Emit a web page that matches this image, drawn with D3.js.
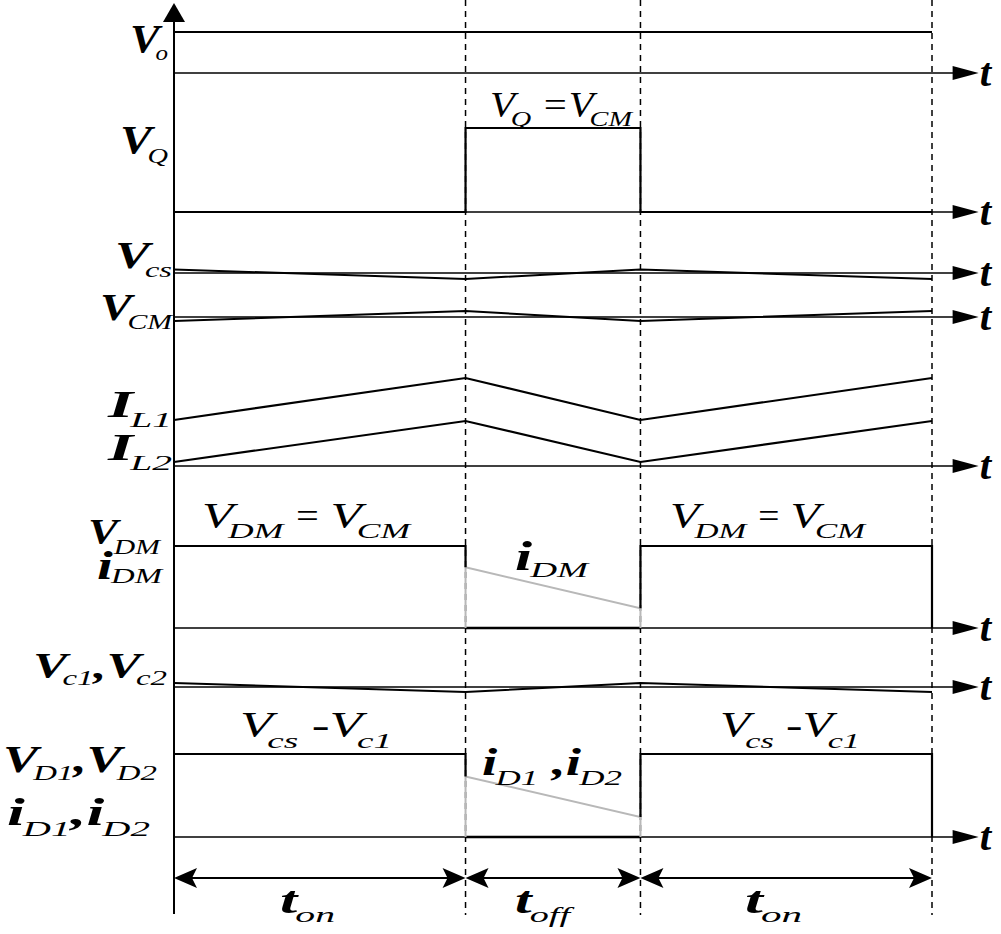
<!DOCTYPE html>
<html><head><meta charset="utf-8">
<script src="https://cdn.jsdelivr.net/npm/d3@7"></script>
<style>
html,body{margin:0;padding:0;background:#fff;}
text{font-family:"Liberation Serif","Times New Roman",serif;font-style:italic;fill:#000;}
</style></head>
<body><svg id="c" width="1001" height="934"></svg>
<script>
// ---------- data ----------
const tBreaks = [0, 1, 1.6, 2.6];          // t_on, t_off, t_on boundaries (t_on = 1)
const tAxisEnd = 2.76;
const voVals  = [1, 1, 1, 1];
const vqT     = [0, 1, 1, 1.6, 1.6, 2.6];
const vqVals  = [0, 0, 1, 1, 0, 0];
const vcsVals = [0.35, -0.6, 0.35, -0.6];
const vcmVals = [-0.4, 0.6, -0.4, 0.6];
const il1Vals = [4.6, 8.8, 4.6, 8.8];
const il2Vals = [0.4, 4.5, 0.4, 4.5];
const vdmOnT1 = [0, 1, 1],      vdmOnV1 = [1, 1, 0.74];
const vdmOnT2 = [1.6, 1.6, 2.6, 2.6], vdmOnV2 = [0.24, 1, 1, 0];
const idmT    = [1, 1, 1.6, 1.6],     idmV    = [0, 0.74, 0.24, 0];
const vc1Vals = [0.4, -0.5, 0.4, -0.5];
const vdOnT1 = [0, 1, 1],      vdOnV1 = [1, 1, 0.73];
const vdOnT2 = [1.6, 1.6, 2.6, 2.6],  vdOnV2 = [0.24, 1, 1, 0];
const idT    = [1, 1, 1.6, 1.6],      idV    = [0, 0.73, 0.24, 0];
const spanLabels = [["t","on"],["t","off"],["t","on"]];

// ---------- layout ----------
const svg = d3.select("#c");
const x = d3.scaleLinear().domain([0, 2.6]).range([174, 932]);
const axisX = x(0);
function band(base, amp, dmax){ return d3.scaleLinear().domain([0, dmax||1]).range([base, base-amp]); }
const yVo  = band(73, 41);
const yVq  = band(212, 84);
const yVcs = band(273, 10);
const yVcm = band(317, 10);
const yIL  = band(466, 100, 10);
const yVdm = band(628, 82);
const yVc1 = band(687, 10);
const yVd  = band(837, 83);
const yDim = 878;

const line = (xs, ys, sc) => d3.line()(xs.map((t,i)=>[x(t), sc(ys[i])]));

// dashed vertical guides
svg.selectAll(".guide").data(tBreaks.slice(1)).enter().append("line")
  .attr("x1", d=>x(d)).attr("x2", d=>x(d)).attr("y1", 0).attr("y2", 915)
  .attr("stroke","#000").attr("stroke-width",1.5).attr("stroke-dasharray","6,5");

// vertical axis
svg.append("line").attr("x1",axisX).attr("x2",axisX).attr("y1",12).attr("y2",914)
  .attr("stroke","#000").attr("stroke-width",2);
svg.append("path").attr("d",`M${axisX},3 L${axisX-11},22 L${axisX+11},22 Z`).attr("fill","#000");

// baselines with arrows
const bases = [yVo, yVq, yVcs, yVcm, yIL, yVdm, yVc1, yVd];
bases.forEach(sc=>{
  const y0 = sc(0), xe = x(tAxisEnd);
  svg.append("line").attr("x1",axisX).attr("x2",xe-22).attr("y1",y0).attr("y2",y0)
    .attr("stroke","#000").attr("stroke-width",1.5);
  svg.append("path").attr("d",`M${xe-26},${y0-7} L${xe},${y0} L${xe-26},${y0+7} Z`).attr("fill","#000");
});

function wave(xs, ys, sc, color, w){
  svg.append("path").attr("d", line(xs, ys, sc)).attr("fill","none")
    .attr("stroke", color||"#000").attr("stroke-width", w||2.2).attr("stroke-linejoin","miter");
}
wave(tBreaks, voVals, yVo);
wave(vqT, vqVals, yVq);
wave(tBreaks, vcsVals, yVcs, "#000", 2);
wave(tBreaks, vcmVals, yVcm, "#000", 2);
wave(tBreaks, il1Vals, yIL);
wave(tBreaks, il2Vals, yIL);
// VDM / iDM
wave([1,1.6],[0,0], yVdm, "#000", 2.6);
wave(idmT, idmV, yVdm, "#b8b8b8", 2);
wave(vdmOnT1, vdmOnV1, yVdm);
wave(vdmOnT2, vdmOnV2, yVdm);
wave(tBreaks, vc1Vals, yVc1, "#000", 2);
// VD / iD
wave([1,1.6],[0,0], yVd, "#000", 2.6);
wave(idT, idV, yVd, "#b8b8b8", 2);
wave(vdOnT1, vdOnV1, yVd);
wave(vdOnT2, vdOnV2, yVd);

// dimension arrows
function arrowHead(xt, y, dir){
  const L = 23, H = 10;
  svg.append("path").attr("d",`M${xt},${y} L${xt-dir*L},${y-H} L${xt-dir*L+dir*5},${y} L${xt-dir*L},${y+H} Z`).attr("fill","#000");
}
for(let i=0;i<3;i++){
  const a = x(tBreaks[i]), b = x(tBreaks[i+1]);
  svg.append("line").attr("x1",a+8).attr("x2",b-8).attr("y1",yDim).attr("y2",yDim)
    .attr("stroke","#000").attr("stroke-width",2);
  arrowHead(a, yDim, -1); arrowHead(b, yDim, 1);
}

// ---------- labels ----------
// run: [text, kind]  kind: "B" bold main, "R" regular main, "S" subscript
// one <text> per label; each run is a tspan stretched with textLength
function label(runs, x0, x1, y, dy, opt){
  opt = opt || {};
  const F = opt.F || 37, f = opt.f || 20, sxM = opt.sx || 1.3, sxS = 1.5;
  const kern = opt.kern != null ? opt.kern : 0.12;
  const t = svg.append("text");
  const spans = [];
  let cx = 0, prevMain = false;
  runs.forEach(r=>{
    const [txt, kind] = r;
    const sub = kind === "S";
    const sx = sub ? sxS : sxM;
    if(sub && prevMain) cx -= kern * F;
    const s = t.append("tspan").attr("font-size", sub ? f : F)
      .attr("font-weight", kind === "B" ? "bold" : "normal")
      .attr("y", sub ? y + dy : y).text(txt);
    const w = s.node().getComputedTextLength() * sx;
    spans.push({s, x: cx, w});
    cx += w;
    prevMain = !sub;
  });
  const k = (x1 - x0) / cx;
  spans.forEach(o=>{
    o.s.attr("x", x0 + o.x * k).attr("textLength", o.w * k).attr("lengthAdjust","spacingAndGlyphs");
  });
}
// left labels
label([["V","B"],["o","S"]], 130, 168, 52, 8, {F:41});
label([["V","B"],["Q","S"]], 120, 168, 153, 10, {F:39});
label([["V","B"],["cs","S"]], 115, 172, 268, 9);
label([["V","B"],["CM","S"]], 100, 172, 320, 9);
label([["I","B"],["L1","S"]], 108, 172, 417, 10, {F:38, kern:0.06});
label([["I","B"],["L2","S"]], 108, 172, 460, 10, {F:38, kern:0.06});
label([["V","B"],["DM","S"]], 88, 160, 544, 10, {F:35});
label([["i","B"],["DM","S"]], 97, 162, 579, 4, {F:40, kern:0.04});
label([["V","B"],["c1","S"],[",","B"],["V","B"],["c2","S"]], 33, 167, 678, 7, {F:36});
label([["V","B"],["D1","S"],[",","B"],["V","B"],["D2","S"]], 3, 157, 772, 8, {F:37});
label([["i","B"],["D1","S"],[",","B"],["i","B"],["D2","S"]], 7, 150, 825, 11, {F:38, kern:0.04});
// in-plot labels
label([["V","R"],["Q","S"],[" =","R"],["V","R"],["CM","S"]], 490, 632, 117, 9, {F:36, sx:1.2});
label([["V","R"],["DM","S"],[" = ","R"],["V","R"],["CM","S"]], 202, 410, 528, 10, {F:36, sx:1.2});
label([["V","R"],["DM","S"],[" = ","R"],["V","R"],["CM","S"]], 670, 865, 528, 10, {F:36, sx:1.2});
label([["i","B"],["DM","S"]], 515, 588, 570, 7, {F:42, f:22, kern:0.04});
label([["V","R"],["cs","S"],[" -","R"],["V","R"],["c1","S"]], 240, 392, 737, 11, {F:36, sx:1.2});
label([["V","R"],["cs","S"],[" -","R"],["V","R"],["c1","S"]], 720, 860, 737, 11, {F:36, sx:1.2});
label([["i","B"],["D1","S"],[" ,","B"],["i","B"],["D2","S"]], 482, 622, 775, 10, {F:38, f:21, kern:0.04});
// time-span labels
const spanBoxes = [[280,335],[515,570],[745,802]];
spanLabels.forEach((s,i)=>label([[s[0],"B"],[s[1],"S"]], spanBoxes[i][0], spanBoxes[i][1], 913, 9, {F:38, f:21, kern:0.04}));
// "t" at the end of each time axis
bases.forEach(sc=>{
  svg.append("text").attr("x", x(tAxisEnd)+1).attr("y", sc(0)+13)
    .attr("font-size", 41).attr("font-weight","bold").text("t");
});
</script></body></html>
